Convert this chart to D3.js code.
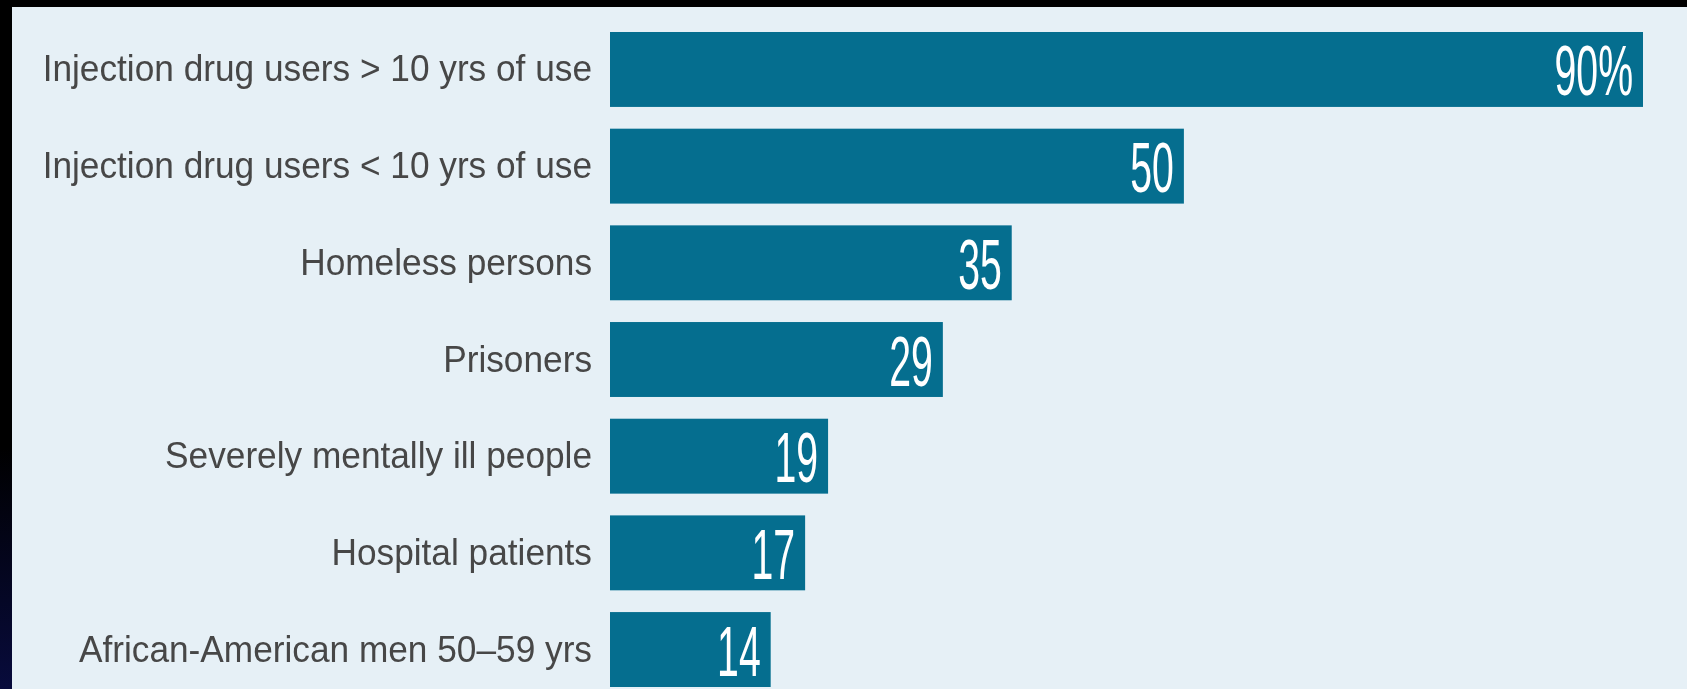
<!DOCTYPE html>
<html>
<head>
<meta charset="utf-8">
<script src="https://cdn.jsdelivr.net/npm/d3@7"></script>
<style>
  body { margin: 0; background: #000; }
  svg { display: block; }
</style>
</head>
<body>
<div class="chart"></div>
<script>
// groups and prevalence (%)
var groups = [
  "Injection drug users > 10 yrs of use",
  "Injection drug users < 10 yrs of use",
  "Homeless persons",
  "Prisoners",
  "Severely mentally ill people",
  "Hospital patients",
  "African-American men 50\u201359 yrs"
];
var values = [90, 50, 35, 29, 19, 17, 14];
var valueLabels = ["90%", "50", "35", "29", "19", "17", "14"];

var svgWidth = 1687, svgHeight = 689;
var svg = d3.select(".chart").append("svg").attr("width", svgWidth).attr("height", svgHeight);

// black frame, left edge fades to navy at the bottom
var defs = svg.append("defs");
var grad = defs.append("linearGradient").attr("id", "edge").attr("x1", 0).attr("y1", 0).attr("x2", 0).attr("y2", 1);
grad.append("stop").attr("offset", "0.65").attr("stop-color", "#000");
grad.append("stop").attr("offset", "1").attr("stop-color", "#080b3c");
defs.append("filter").attr("id", "soft").append("feGaussianBlur").attr("stdDeviation", 0.5);

svg.append("rect").attr("width", svgWidth).attr("height", svgHeight).attr("fill", "#000");
svg.append("rect").attr("x", 0).attr("y", 0).attr("width", 12).attr("height", svgHeight).attr("fill", "url(#edge)");
svg.append("rect").attr("x", 12).attr("y", 7).attr("width", svgWidth - 12).attr("height", svgHeight - 7).attr("fill", "#e6f0f6");

var x = d3.scaleLinear().domain([0, 90]).range([610, 1643]);
var y = d3.scaleBand().domain(groups).range([32, 687]).paddingInner(0.225);

var chartGroup = svg.append("g");

chartGroup.selectAll("rect.bar")
  .data(values)
  .enter()
  .append("rect")
  .attr("class", "bar")
  .attr("x", x(0))
  .attr("y", (d, i) => y(groups[i]))
  .attr("width", d => x(d) - x(0))
  .attr("height", y.bandwidth())
  .attr("fill", "#056e8f");

// category labels, right aligned to the left of the bars (slightly condensed)
chartGroup.selectAll("text.cat")
  .data(groups)
  .enter()
  .append("text")
  .attr("class", "cat")
  .attr("transform", d => `translate(${x(0) - 18}, ${y(d) + y.bandwidth() / 2 + 12}) scale(0.94, 1)`)
  .attr("text-anchor", "end")
  .attr("font-family", "Liberation Sans, Arial, sans-serif")
  .attr("font-size", 37.5)
  .attr("fill", "#474747")
  .attr("filter", "url(#soft)")
  .text(d => d);

// value labels inside bar ends, tall condensed figures
chartGroup.selectAll("text.val")
  .data(values)
  .enter()
  .append("text")
  .attr("class", "val")
  .attr("transform", (d, i) => `translate(${x(d) - 10}, ${y(groups[i]) + y.bandwidth() / 2 + 26}) scale(0.56, 1)`)
  .attr("text-anchor", "end")
  .attr("font-family", "Liberation Sans, Arial, sans-serif")
  .attr("font-size", 70)
  .attr("fill", "#ffffff")
  .attr("filter", "url(#soft)")
  .text((d, i) => valueLabels[i]);
</script>
</body>
</html>
